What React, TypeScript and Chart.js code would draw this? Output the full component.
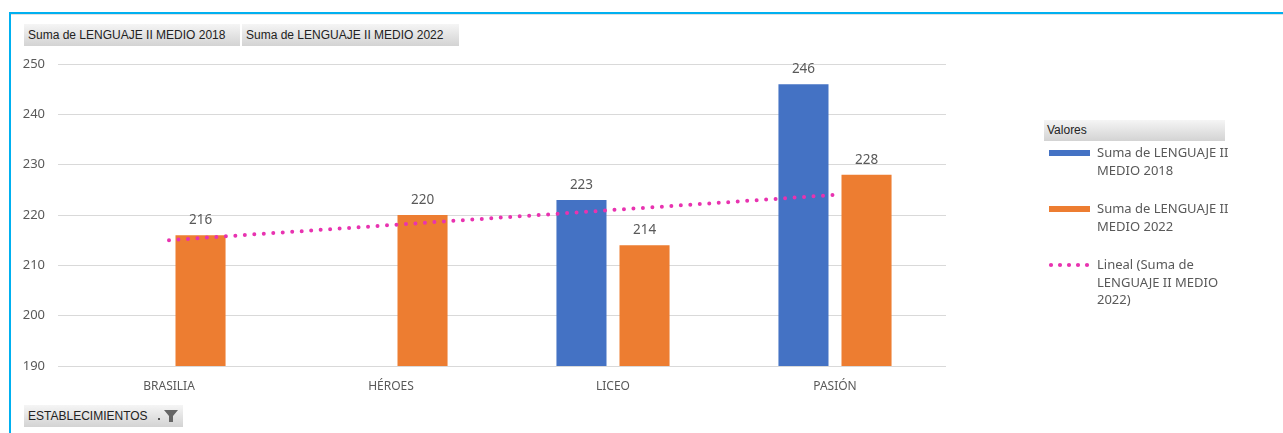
import React, { useEffect, useRef } from "react";
import { Chart, registerables } from "chart.js";

Chart.register(...registerables);

const categories = ["BRASILIA", "HÉROES", "LICEO", "PASIÓN"];
const values2018: (number | null)[] = [null, null, 223, 246];
const values2022: number[] = [216, 220, 214, 228];
const trend2022: number[] = [215, 218, 221, 224];
const yMin = 190;
const yMax = 250;
const yStep = 10;

const series2018Label = "Suma de LENGUAJE II MEDIO 2018";
const series2022Label = "Suma de LENGUAJE II MEDIO 2022";
const trendLabel = "Lineal (Suma de LENGUAJE II MEDIO 2022)";

const BLUE = "#4472C4";
const ORANGE = "#ED7D31";
const PINK = "#E833B0";
const TEXT = "#595959";
const FONT = "'Noto Sans', 'Open Sans', sans-serif";

const barLabels = {
  id: "barLabels",
  afterDatasetsDraw(chart: any) {
    const ctx = chart.ctx;
    ctx.save();
    ctx.font = `13.5px ${FONT}`;
    ctx.fillStyle = TEXT;
    ctx.textAlign = "center";
    ctx.textBaseline = "middle";
    chart.data.datasets.forEach((ds: any, i: number) => {
      if (ds.type !== "bar") return;
      const meta = chart.getDatasetMeta(i);
      meta.data.forEach((el: any, j: number) => {
        const v = ds.data[j];
        if (v === null || v === undefined) return;
        ctx.fillText(String(v), el.x, el.y - 15);
      });
    });
    ctx.restore();
  },
};

const btnStyle: React.CSSProperties = {
  position: "absolute",
  height: 22,
  background: "linear-gradient(#f5f5f5, #d3d3d3)",
  color: "#222",
  font: "12px 'Liberation Sans', Arial, sans-serif",
  lineHeight: "22px",
  paddingLeft: 4,
  boxSizing: "border-box",
  whiteSpace: "nowrap",
};

const legendText: React.CSSProperties = {
  position: "absolute",
  left: 1097,
  width: 140,
  font: `13px ${FONT}`,
  lineHeight: "17.5px",
  color: TEXT,
};

export default function App() {
  const canvasRef = useRef<HTMLCanvasElement>(null);

  useEffect(() => {
    const chart = new Chart(canvasRef.current!, {
      data: {
        labels: categories,
        datasets: [
          {
            type: "line",
            label: trendLabel,
            data: trend2022,
            borderColor: PINK,
            borderWidth: 4,
            borderDash: [0, 9.5],
            borderCapStyle: "round",
            pointRadius: 0,
            fill: false,
            order: 0,
          } as any,
          {
            type: "bar",
            label: series2018Label,
            data: values2018,
            backgroundColor: BLUE,
            categoryPercentage: 0.568,
            barPercentage: 0.794,
            order: 1,
          },
          {
            type: "bar",
            label: series2022Label,
            data: values2022,
            backgroundColor: ORANGE,
            categoryPercentage: 0.568,
            barPercentage: 0.794,
            order: 1,
          },
        ],
      },
      options: {
        animation: false,
        responsive: false,
        maintainAspectRatio: false,
        layout: { padding: { top: 64, right: 337, bottom: 37, left: 0 } },
        plugins: {
          legend: { display: false },
          tooltip: { enabled: false },
        },
        scales: {
          x: {
            grid: { display: false, drawTicks: false },
            border: { display: false },
            ticks: { color: TEXT, font: { family: FONT, size: 12 }, padding: 13 },
            afterFit: (s: any) => {
              s.height = 30;
            },
          },
          y: {
            min: yMin,
            max: yMax,
            grid: { color: "#D9D9D9", lineWidth: 1, drawTicks: false },
            border: { display: false },
            ticks: {
              stepSize: yStep,
              color: TEXT,
              font: { family: FONT, size: 13 },
              padding: 13,
            },
            afterFit: (s: any) => {
              s.width = 58;
            },
          },
        },
      },
      plugins: [barLabels],
    });
    return () => chart.destroy();
  }, []);

  return (
    <div
      style={{
        position: "absolute",
        left: 0,
        top: 0,
        width: 1283,
        height: 433,
        background: "#fff",
        overflow: "hidden",
      }}
    >
      <canvas
        ref={canvasRef}
        width={1283}
        height={433}
        style={{ position: "absolute", left: 0, top: 0, width: 1283, height: 433 }}
      />
      {/* frame */}
      <div style={{ position: "absolute", left: 9, top: 12, width: 1274, height: 2, background: "#00B0F0" }} />
      <div style={{ position: "absolute", left: 11, top: 14, width: 1272, height: 1, background: "#E0E0E0" }} />
      <div style={{ position: "absolute", left: 9, top: 12, width: 2, height: 421, background: "#00B0F0" }} />

      {/* value field buttons */}
      <div style={{ ...btnStyle, left: 24, top: 24, width: 216 }}>{series2018Label}</div>
      <div style={{ ...btnStyle, left: 242, top: 24, width: 217 }}>{series2022Label}</div>

      {/* axis field button */}
      <div style={{ ...btnStyle, left: 24, top: 405, width: 159 }}>
        ESTABLECIMIENTOS
        <svg width="24" height="16" style={{ position: "absolute", left: 132, top: 3 }}>
          <rect x="2" y="10" width="2" height="2" fill="#555" />
          <polygon points="8,2 22,2 17,8 17,14 13,14 13,8" fill="#666" />
        </svg>
      </div>

      {/* legend */}
      <div
        style={{
          ...btnStyle,
          left: 1044,
          top: 120,
          width: 181,
          height: 21,
          lineHeight: "21px",
          paddingLeft: 3,
        }}
      >
        Valores
      </div>
      <div style={{ position: "absolute", left: 1049, top: 150, width: 41, height: 6, background: BLUE }} />
      <div style={{ ...legendText, top: 144 }}>
        Suma de LENGUAJE II
        <br />
        MEDIO 2018
      </div>
      <div style={{ position: "absolute", left: 1049, top: 206, width: 41, height: 6, background: ORANGE }} />
      <div style={{ ...legendText, top: 200 }}>
        Suma de LENGUAJE II
        <br />
        MEDIO 2022
      </div>
      <svg width="44" height="8" style={{ position: "absolute", left: 1048, top: 261 }}>
        {[0, 1, 2, 3, 4].map((i) => (
          <circle key={i} cx={3 + i * 9} cy={4} r={2.1} fill={PINK} />
        ))}
      </svg>
      <div style={{ ...legendText, top: 256 }}>
        Lineal (Suma de
        <br />
        LENGUAJE II MEDIO
        <br />
        2022)
      </div>
    </div>
  );
}
